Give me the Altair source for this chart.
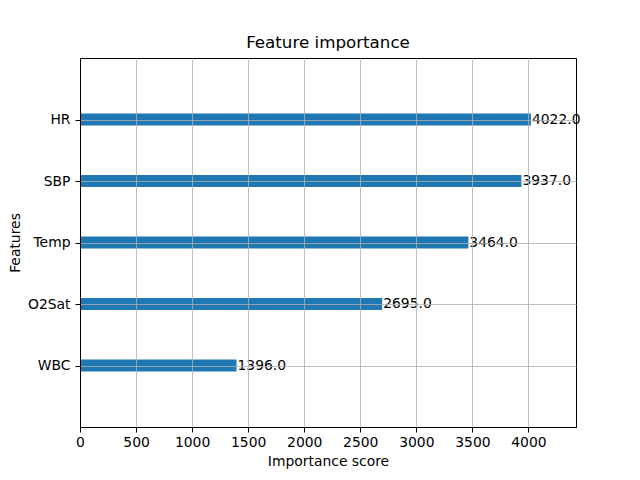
import altair as alt
import pandas as pd

features = ["HR", "SBP", "Temp", "O2Sat", "WBC"]
scores = [4022.0, 3937.0, 3464.0, 2695.0, 1396.0]
x_ticks = [0, 500, 1000, 1500, 2000, 2500, 3000, 3500, 4000]

df = pd.DataFrame({"feature": features, "score": scores})
df["label"] = [f"{v:.1f}" for v in scores]

FONT = "DejaVu Sans"
xmax = max(scores) * 1.1

x_enc = alt.X(
    "score:Q",
    title="Importance score",
    scale=alt.Scale(domain=[0, xmax], nice=False, zero=True),
    axis=alt.Axis(values=x_ticks, grid=True, zindex=1, format="d"),
)
y_enc = alt.Y(
    "feature:N",
    title="Features",
    sort=features,
    scale=alt.Scale(type="point", padding=1, domain=features),
    axis=alt.Axis(grid=True, zindex=1),
)

bars = alt.Chart(df).mark_bar(color="#1f77b4", height=12).encode(
    x=x_enc, y=y_enc
)
texts = alt.Chart(df).mark_text(
    align="left", baseline="middle", dx=1, font=FONT, fontSize=13.9, color="black"
).encode(x="score:Q", y=alt.Y("feature:N", sort=features), text="label:N")

chart = (
    alt.layer(bars, texts)
    .properties(
        width=496,
        height=369,
        title=alt.Title("Feature importance", fontSize=16.7, fontWeight="normal", font=FONT, color="black", offset=6),
        autosize=alt.AutoSizeParams(type="none"),
        padding={"left": 72, "top": 50, "right": 56, "bottom": 45},
    )
    .configure_view(stroke="black", strokeWidth=1)
    .configure_axis(
        labelFont=FONT,
        titleFont=FONT,
        labelFontSize=13.9,
        titleFontSize=13.9,
        titleFontWeight="normal",
        labelColor="black",
        titleColor="black",
        domainColor="black",
        tickColor="black",
        tickSize=5,
        gridColor="#b0b0b0",
        gridWidth=0.8,
        labelPadding=3,
    )
    .configure_axisX(titlePadding=6, labelFlush=False)
    .configure_axisY(titlePadding=5, labelPadding=5, labelAngle=0)
)

chart.save("out.html", embed_options={"renderer": "svg", "actions": False})
